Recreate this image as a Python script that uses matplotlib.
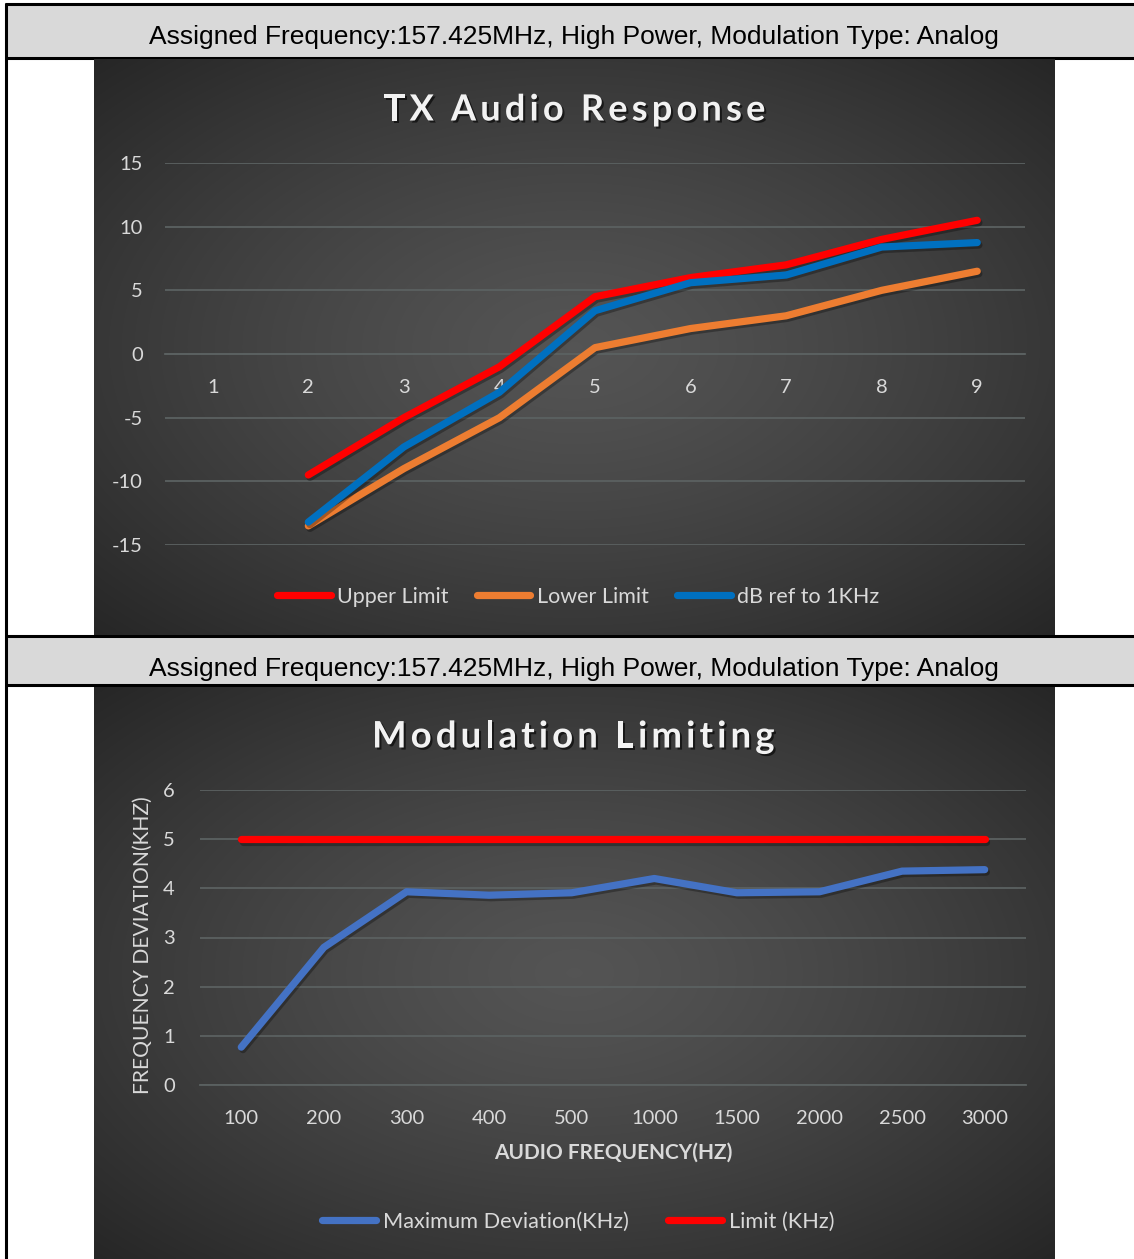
import numpy as np
import matplotlib
matplotlib.use("Agg")
import matplotlib.pyplot as plt
from matplotlib.patches import Rectangle
from matplotlib import patheffects as pe
from matplotlib.textpath import TextPath
from matplotlib.font_manager import FontProperties

plt.rcParams["axes.unicode_minus"] = False

# ---------------- data ----------------
top_categories = [1, 2, 3, 4, 5, 6, 7, 8, 9]
top_yticks = [-15, -10, -5, 0, 5, 10, 15]
upper_limit = [np.nan, -9.5, -5, -1, 4.5, 6, 7, 9, 10.5]
lower_limit = [np.nan, -13.5, -9, -5, 0.5, 2, 3, 5, 6.5]
db_ref_1k = [np.nan, -13.2, -7.3, -3, 3.4, 5.6, 6.2, 8.4, 8.75]
top_series_names = ["Upper Limit", "Lower Limit", "dB ref to 1KHz"]

bottom_categories = ["100", "200", "300", "400", "500", "1000", "1500", "2000", "2500", "3000"]
bottom_yticks = [0, 1, 2, 3, 4, 5, 6]
max_deviation = [0.77, 2.8, 3.93, 3.86, 3.91, 4.2, 3.91, 3.93, 4.35, 4.38]
limit_khz = [5, 5, 5, 5, 5, 5, 5, 5, 5, 5]
bottom_series_names = ["Maximum Deviation(KHz)", "Limit (KHz)"]

header_text = "Assigned Frequency:157.425MHz, High Power, Modulation Type: Analog"
top_title = "TX Audio Response"
bottom_title = "Modulation Limiting"
bottom_xlabel = "AUDIO FREQUENCY(HZ)"
bottom_ylabel = "FREQUENCY DEVIATION(KHZ)"

# ---------------- layout ----------------
W, H = 1134, 1259
DPI = 100
fig = plt.figure(figsize=(W / DPI, H / DPI), dpi=DPI)
fig.patch.set_facecolor("white")

CFONT = "Lato"
TICK_C = "#d9d9d9"
GRID_C = "#5b6161"


def px_axes(x0, y0, x1, y1, z=1):
    ax = fig.add_axes([x0 / W, 1 - y1 / H, (x1 - x0) / W, (y1 - y0) / H])
    ax.set_zorder(z)
    return ax


# table background
tab = px_axes(0, 0, W, H, z=0)
tab.set_xlim(0, W)
tab.set_ylim(H, 0)
tab.axis("off")
tab.add_patch(Rectangle((6, 4), W, 54, facecolor="#d9d9d9", edgecolor="none"))
tab.add_patch(Rectangle((6, 636), W, 49, facecolor="#d9d9d9", edgecolor="none"))
for yy in [4, 58, 636, 685]:
    tab.plot([5, W], [yy, yy], color="black", lw=2.2, solid_capstyle="butt")
tab.plot([6, 6], [3, H], color="black", lw=2.2, solid_capstyle="butt")
for yc in [37, 669]:
    tab.text(574, yc, header_text, ha="center", va="center", fontsize=19,
             family="Liberation Sans", color="black")


def gradient_bg(x0, y0, x1, y1):
    ax = px_axes(x0, y0, x1, y1, z=1)
    ax.axis("off")
    nx, ny = 400, 240
    gx = np.linspace(-1, 1, nx)
    gy = np.linspace(-1, 1, ny)
    X, Y = np.meshgrid(gx, gy)
    r = np.sqrt(X ** 2 + Y ** 2) / np.sqrt(2)
    inner, outer = 0.33, 0.15
    val = inner - (inner - outer) * np.clip(r, 0, 1) ** 1.3
    img = np.dstack([val, val, val])
    ax.imshow(img, aspect="auto", extent=[0, 1, 0, 1], interpolation="bilinear")
    return ax


shadow_line = [pe.SimpleLineShadow(offset=(1.2, -1.8), shadow_color="black", alpha=0.3), pe.Normal()]
shadow_text = [pe.SimplePatchShadow(offset=(1.5, -1.5), shadow_rgbFace="black", alpha=0.6), pe.Normal()]


def spaced_title(xc, yc, s, size, spacing_px):
    """Draw a bold, letter-spaced title centred at pixel (xc, yc)."""
    fp = FontProperties(family=CFONT, weight="bold", size=size)
    scale = DPI / 72.0
    widths = [0.0]
    for i in range(1, len(s) + 1):
        tp = TextPath((0, 0), s[:i], prop=fp)
        widths.append(tp.get_extents().x1 * scale if s[:i].strip() else 0.0)
    total = widths[-1] + spacing_px * (len(s) - 1)
    x_start = xc - total / 2
    for i, ch in enumerate(s):
        if ch == " ":
            continue
        tp_ch = TextPath((0, 0), ch, prop=fp).get_extents()
        left = widths[i + 1] - tp_ch.x1 * scale
        x = x_start + left + spacing_px * i
        fig.text(x / W, 1 - yc / H, ch, ha="left", va="center_baseline", fontsize=size,
                 family=CFONT, weight="bold", color="#f2f2f2", path_effects=shadow_text)


# ---------------- chart 1 ----------------
gradient_bg(94, 59, 1055, 635)
ax1 = px_axes(165, 163, 1025, 545, z=2)
ax1.set_facecolor("none")
ax1.set_xlim(0.5, 9.5)
ax1.set_ylim(-15, 15)
colors1 = ["#ff0000", "#ed7d31", "#0070c0"]
for vals, c, name in zip([upper_limit, lower_limit, db_ref_1k], colors1, top_series_names):
    ax1.plot(top_categories, vals, color=c, lw=5.2, solid_capstyle="round",
             solid_joinstyle="round", label=name, path_effects=shadow_line, zorder=3)
ax1.set_yticks(top_yticks)
ax1.set_xticks(top_categories)
ax1.set_xticklabels([str(c) for c in top_categories])
ax1.grid(axis="y", color=GRID_C, lw=1.3)
ax1.set_axisbelow(True)
for s in ["top", "right", "left"]:
    ax1.spines[s].set_visible(False)
ax1.spines["bottom"].set_position(("data", 0))
ax1.spines["bottom"].set_color(GRID_C)
ax1.spines["bottom"].set_linewidth(1.3)
ax1.tick_params(axis="x", length=0, pad=18, labelsize=14.5, labelcolor=TICK_C)
ax1.tick_params(axis="y", length=0, pad=16, labelsize=14.5, labelcolor=TICK_C)
for lab in ax1.get_xticklabels() + ax1.get_yticklabels():
    lab.set_family(CFONT)
spaced_title(574, 107, top_title, 26, 4.2)
leg1 = fig.legend(handles=ax1.get_lines(), labels=top_series_names, loc="center",
                  bbox_to_anchor=(578 / W, 1 - 597 / H), ncol=3, frameon=False,
                  handlelength=2.5, handletextpad=0.3, columnspacing=1.3,
                  prop={"family": CFONT, "size": 15.5})
for t in leg1.get_texts():
    t.set_color(TICK_C)
for l in leg1.get_lines():
    l.set_path_effects([])

# ---------------- chart 2 ----------------
gradient_bg(94, 687, 1055, 1259)
ax2 = px_axes(200, 790, 1026, 1085, z=2)
ax2.set_facecolor("none")
xi = np.arange(len(bottom_categories))
ax2.set_xlim(-0.5, len(bottom_categories) - 0.5)
ax2.set_ylim(0, 6)
l_dev, = ax2.plot(xi, max_deviation, color="#4472c4", lw=5.2, solid_capstyle="round",
                  solid_joinstyle="round", path_effects=shadow_line, zorder=3)
l_lim, = ax2.plot(xi, limit_khz, color="#ff0000", lw=5.2, solid_capstyle="round",
                  path_effects=shadow_line, zorder=3)
ax2.set_yticks(bottom_yticks)
ax2.set_xticks(xi)
ax2.set_xticklabels(bottom_categories)
ax2.grid(axis="y", color=GRID_C, lw=1.3)
ax2.set_axisbelow(True)
for s in ["top", "right", "left"]:
    ax2.spines[s].set_visible(False)
ax2.spines["bottom"].set_color(GRID_C)
ax2.spines["bottom"].set_linewidth(1.3)
ax2.tick_params(axis="x", length=0, pad=18, labelsize=14.5, labelcolor=TICK_C)
ax2.tick_params(axis="y", length=0, pad=18, labelsize=14.5, labelcolor=TICK_C)
for lab in ax2.get_xticklabels() + ax2.get_yticklabels():
    lab.set_family(CFONT)
spaced_title(573, 734, bottom_title, 26.3, 4.1)
fig.text(613 / W, 1 - 1153 / H, bottom_xlabel, ha="center", va="center", fontsize=15,
         family=CFONT, weight="bold", color=TICK_C)
fig.text(143 / W, 1 - 945 / H, bottom_ylabel, ha="center", va="center", fontsize=15.2,
         family=CFONT, rotation=90, color=TICK_C)
leg2 = fig.legend(handles=[l_dev, l_lim], labels=bottom_series_names, loc="center",
                  bbox_to_anchor=(578 / W, 1 - 1222 / H), ncol=2, frameon=False,
                  handlelength=2.5, handletextpad=0.3, columnspacing=1.8,
                  prop={"family": CFONT, "size": 15.7})
for t in leg2.get_texts():
    t.set_color(TICK_C)
for l in leg2.get_lines():
    l.set_path_effects([])

fig.savefig("out.png", dpi=DPI, facecolor="white")
